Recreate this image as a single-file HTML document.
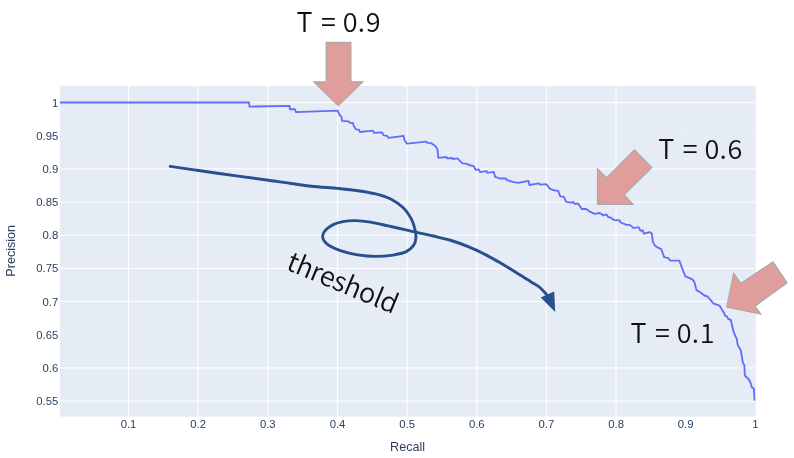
<!DOCTYPE html>
<html><head><meta charset="utf-8"><title>Precision-Recall</title>
<style>
html,body{margin:0;padding:0;background:#fff;}
body{width:794px;height:458px;overflow:hidden;}
svg{display:block;}
.tick{font-family:"Liberation Sans","DejaVu Sans",sans-serif;font-size:11.3px;fill:#2a3f5f;}
.axt{font-family:"Liberation Sans","DejaVu Sans",sans-serif;font-size:12.6px;fill:#2a3f5f;}
.ann{font-family:"Noto Sans CJK JP","Liberation Sans",sans-serif;font-weight:350;font-size:27px;fill:#111;}
</style></head><body>
<svg width="794" height="458" viewBox="0 0 794 458">
<rect x="0" y="0" width="794" height="458" fill="#ffffff"/>
<rect x="59.9" y="85.9" width="695.9" height="330.7" fill="#e5ecf6"/>
<g stroke="#ffffff" stroke-width="1">
<line x1="128.50" y1="85.9" x2="128.50" y2="416.6"/>
<line x1="198.15" y1="85.9" x2="198.15" y2="416.6"/>
<line x1="267.80" y1="85.9" x2="267.80" y2="416.6"/>
<line x1="337.45" y1="85.9" x2="337.45" y2="416.6"/>
<line x1="407.10" y1="85.9" x2="407.10" y2="416.6"/>
<line x1="476.75" y1="85.9" x2="476.75" y2="416.6"/>
<line x1="546.40" y1="85.9" x2="546.40" y2="416.6"/>
<line x1="616.05" y1="85.9" x2="616.05" y2="416.6"/>
<line x1="685.70" y1="85.9" x2="685.70" y2="416.6" opacity="0.18"/>
<line x1="59.9" y1="102.50" x2="755.8" y2="102.50"/>
<line x1="59.9" y1="135.68" x2="755.8" y2="135.68" opacity="0.18"/>
<line x1="59.9" y1="168.86" x2="755.8" y2="168.86"/>
<line x1="59.9" y1="202.04" x2="755.8" y2="202.04"/>
<line x1="59.9" y1="235.22" x2="755.8" y2="235.22"/>
<line x1="59.9" y1="268.40" x2="755.8" y2="268.40"/>
<line x1="59.9" y1="301.58" x2="755.8" y2="301.58"/>
<line x1="59.9" y1="334.76" x2="755.8" y2="334.76" opacity="0.18"/>
<line x1="59.9" y1="367.94" x2="755.8" y2="367.94"/>
<line x1="59.9" y1="401.12" x2="755.8" y2="401.12"/>
</g>
<polyline fill="none" stroke="#636efa" stroke-width="1.85" stroke-linejoin="round" points="60.0,102.5 249.1,102.5 249.5,106.6 289.4,105.8 290.0,109.2 294.8,109.2 296.0,112.2 337.7,110.6 339.7,115.2 341.4,116.2 342.0,120.9 348.8,121.3 349.8,122.9 352.8,122.9 353.9,126.3 355.9,129.3 358.9,129.7 359.9,132.0 373.0,130.7 374.0,132.8 382.1,132.4 383.5,135.4 387.1,135.8 388.7,137.8 403.7,135.8 404.5,140.2 407.1,143.7 426.3,141.6 427.3,142.8 431.3,143.2 435.3,145.9 437.4,149.3 438.4,157.8 446.4,157.0 447.4,158.4 452.5,158.0 453.1,159.2 457.5,158.4 462.5,163.4 467.6,163.8 468.6,165.0 473.6,166.0 475.6,169.8 478.7,169.4 480.1,172.1 486.7,171.1 487.3,172.9 493.8,171.9 495.2,176.9 499.8,178.5 505.9,178.5 506.9,180.1 512.9,181.9 518.0,182.9 528.6,180.9 529.4,185.0 539.1,183.4 540.1,184.6 546.2,184.2 550.1,188.8 555.1,190.6 558.1,190.6 560.2,196.3 563.8,196.7 566.2,201.9 571.2,202.7 573.2,201.9 574.3,203.7 578.3,203.7 581.7,209.0 586.3,209.0 589.4,211.4 594.4,213.8 599.8,213.0 603.5,215.4 606.5,214.4 608.5,217.4 610.5,217.4 613.6,219.8 619.6,220.5 620.6,222.5 626.6,224.9 629.7,224.9 633.7,228.1 638.7,227.1 640.2,230.5 642.8,230.5 643.8,233.6 649.8,232.1 651.8,233.6 652.8,241.6 654.9,245.6 657.9,247.7 661.2,249.1 664.2,257.2 668.3,258.2 670.3,260.6 679.3,260.6 681.4,266.3 685.4,276.3 692.4,279.4 694.5,282.4 696.5,290.1 700.5,292.5 704.5,295.5 707.6,296.5 713.6,303.6 719.6,305.6 722.6,310.7 724.2,313.1 725.0,315.8 726.9,316.4 728.3,319.0 730.8,319.8 733.7,332.2 736.8,339.2 737.8,345.3 740.8,350.3 742.8,362.4 744.4,365.4 744.8,375.5 748.9,379.5 750.9,383.6 751.9,387.6 753.9,388.6 754.5,400.5"/>
<text class="tick" x="58.3" y="106.5" text-anchor="end">1</text>
<text class="tick" x="58.3" y="139.7" text-anchor="end">0.95</text>
<text class="tick" x="58.3" y="172.9" text-anchor="end">0.9</text>
<text class="tick" x="58.3" y="206.0" text-anchor="end">0.85</text>
<text class="tick" x="58.3" y="239.2" text-anchor="end">0.8</text>
<text class="tick" x="58.3" y="272.4" text-anchor="end">0.75</text>
<text class="tick" x="58.3" y="305.6" text-anchor="end">0.7</text>
<text class="tick" x="58.3" y="338.8" text-anchor="end">0.65</text>
<text class="tick" x="58.3" y="371.9" text-anchor="end">0.6</text>
<text class="tick" x="58.3" y="405.1" text-anchor="end">0.55</text>
<text class="tick" x="128.5" y="428.3" text-anchor="middle">0.1</text>
<text class="tick" x="198.2" y="428.3" text-anchor="middle">0.2</text>
<text class="tick" x="267.8" y="428.3" text-anchor="middle">0.3</text>
<text class="tick" x="337.5" y="428.3" text-anchor="middle">0.4</text>
<text class="tick" x="407.1" y="428.3" text-anchor="middle">0.5</text>
<text class="tick" x="476.8" y="428.3" text-anchor="middle">0.6</text>
<text class="tick" x="546.4" y="428.3" text-anchor="middle">0.7</text>
<text class="tick" x="616.1" y="428.3" text-anchor="middle">0.8</text>
<text class="tick" x="685.7" y="428.3" text-anchor="middle">0.9</text>
<text class="tick" x="755.4" y="428.3" text-anchor="middle">1</text>
<text class="axt" x="407.6" y="451.1" text-anchor="middle">Recall</text>
<text class="axt" transform="translate(14.8,250.8) rotate(-90)" text-anchor="middle">Precision</text>
<path fill="none" stroke="#27508c" stroke-width="2.9" stroke-linecap="round" d="M170.2 166.4 C175.2 167.1 189.1 169.2 200.4 170.8 C211.7 172.4 226.9 174.5 238.2 176.1 C249.5 177.7 259.6 179.0 268.4 180.2 C277.2 181.4 284.0 182.5 291.1 183.5 C298.2 184.5 303.4 185.4 311.2 186.2 C319.0 187.0 330.0 187.7 337.8 188.4 C345.6 189.2 351.6 189.8 357.9 190.7 C364.2 191.6 370.1 192.5 375.6 193.9 C381.1 195.3 386.1 196.7 390.7 199.0 C395.3 201.3 399.9 204.7 403.3 207.8 C406.7 211.0 408.9 214.6 410.8 217.9 C412.7 221.2 413.8 224.6 414.6 227.9 C415.5 231.2 416.1 235.1 415.9 238.0 C415.7 240.9 415.1 243.3 413.4 245.6 C411.7 247.9 409.2 250.3 405.8 251.9 C402.4 253.5 398.2 254.3 393.2 255.1 C388.2 255.8 381.5 256.4 375.6 256.4 C369.7 256.4 363.8 255.9 357.9 254.9 C352.0 253.9 345.1 252.2 340.3 250.6 C335.5 249.0 331.7 247.3 329.0 245.6 C326.3 243.9 324.9 242.1 323.9 240.5 C322.8 238.9 322.5 237.7 322.7 236.0 C322.9 234.3 323.5 232.3 325.2 230.5 C326.9 228.7 329.8 226.4 332.7 224.9 C335.6 223.4 339.0 222.3 342.8 221.6 C346.6 220.9 350.8 220.5 355.4 220.6 C360.0 220.7 365.0 221.2 370.5 222.1 C376.0 223.0 382.3 224.6 388.2 225.9 C394.1 227.2 401.2 228.9 405.8 229.9 C410.4 230.9 411.3 231.2 415.9 232.2 C420.5 233.2 427.6 234.6 433.5 236.0 C439.4 237.4 445.2 238.7 451.1 240.5 C457.0 242.3 462.9 244.4 468.8 246.8 C474.7 249.2 481.0 252.3 486.4 255.1 C491.8 257.9 496.3 260.6 501.4 263.6 C506.5 266.6 512.2 270.1 517.2 273.2 C522.2 276.2 527.3 279.5 531.1 281.9 C534.9 284.3 537.3 285.3 539.9 287.5 C542.5 289.7 545.7 293.8 546.9 295.0"/>
<polygon fill="#27508c" points="540.7,297.6 554.2,291.5 555.2,312"/>
<polygon fill="#df9e9c" stroke="#ada9a5" stroke-width="1.2" stroke-linejoin="miter" points="326.2,42.3 350.9,42.3 350.9,81.8 362.8,81.8 338.2,105.6 313.8,81.8 326.2,81.8"/>
<polygon fill="#df9e9c" stroke="#ada9a5" stroke-width="1.2" stroke-linejoin="miter" points="597.5,204.3 597.5,168.7 606.5,177.8 634.4,149.9 651.9,167.6 624.2,194.8 633.3,204.3"/>
<polygon fill="#df9e9c" stroke="#ada9a5" stroke-width="1.2" stroke-linejoin="miter" points="726.7,307 733.7,273.3 740.8,283.4 773,261.8 787.1,282.8 754.9,306.2 760.9,314.2"/>
<text class="ann" x="296.5" y="31.9" dx="0 0 2.3 0 1.0 0.2 0.7">T = 0.9</text>
<text class="ann" x="658.3" y="159" dx="0 0 2.3 0 1.0 0.2 0.7">T = 0.6</text>
<text class="ann" x="630.5" y="342.6" dx="0 0 2.3 0 1.0 0.2 0.7">T = 0.1</text>
<text class="ann" style="letter-spacing:-0.35px" transform="translate(285,269) rotate(22.6)">threshold</text>
</svg>
</body></html>
